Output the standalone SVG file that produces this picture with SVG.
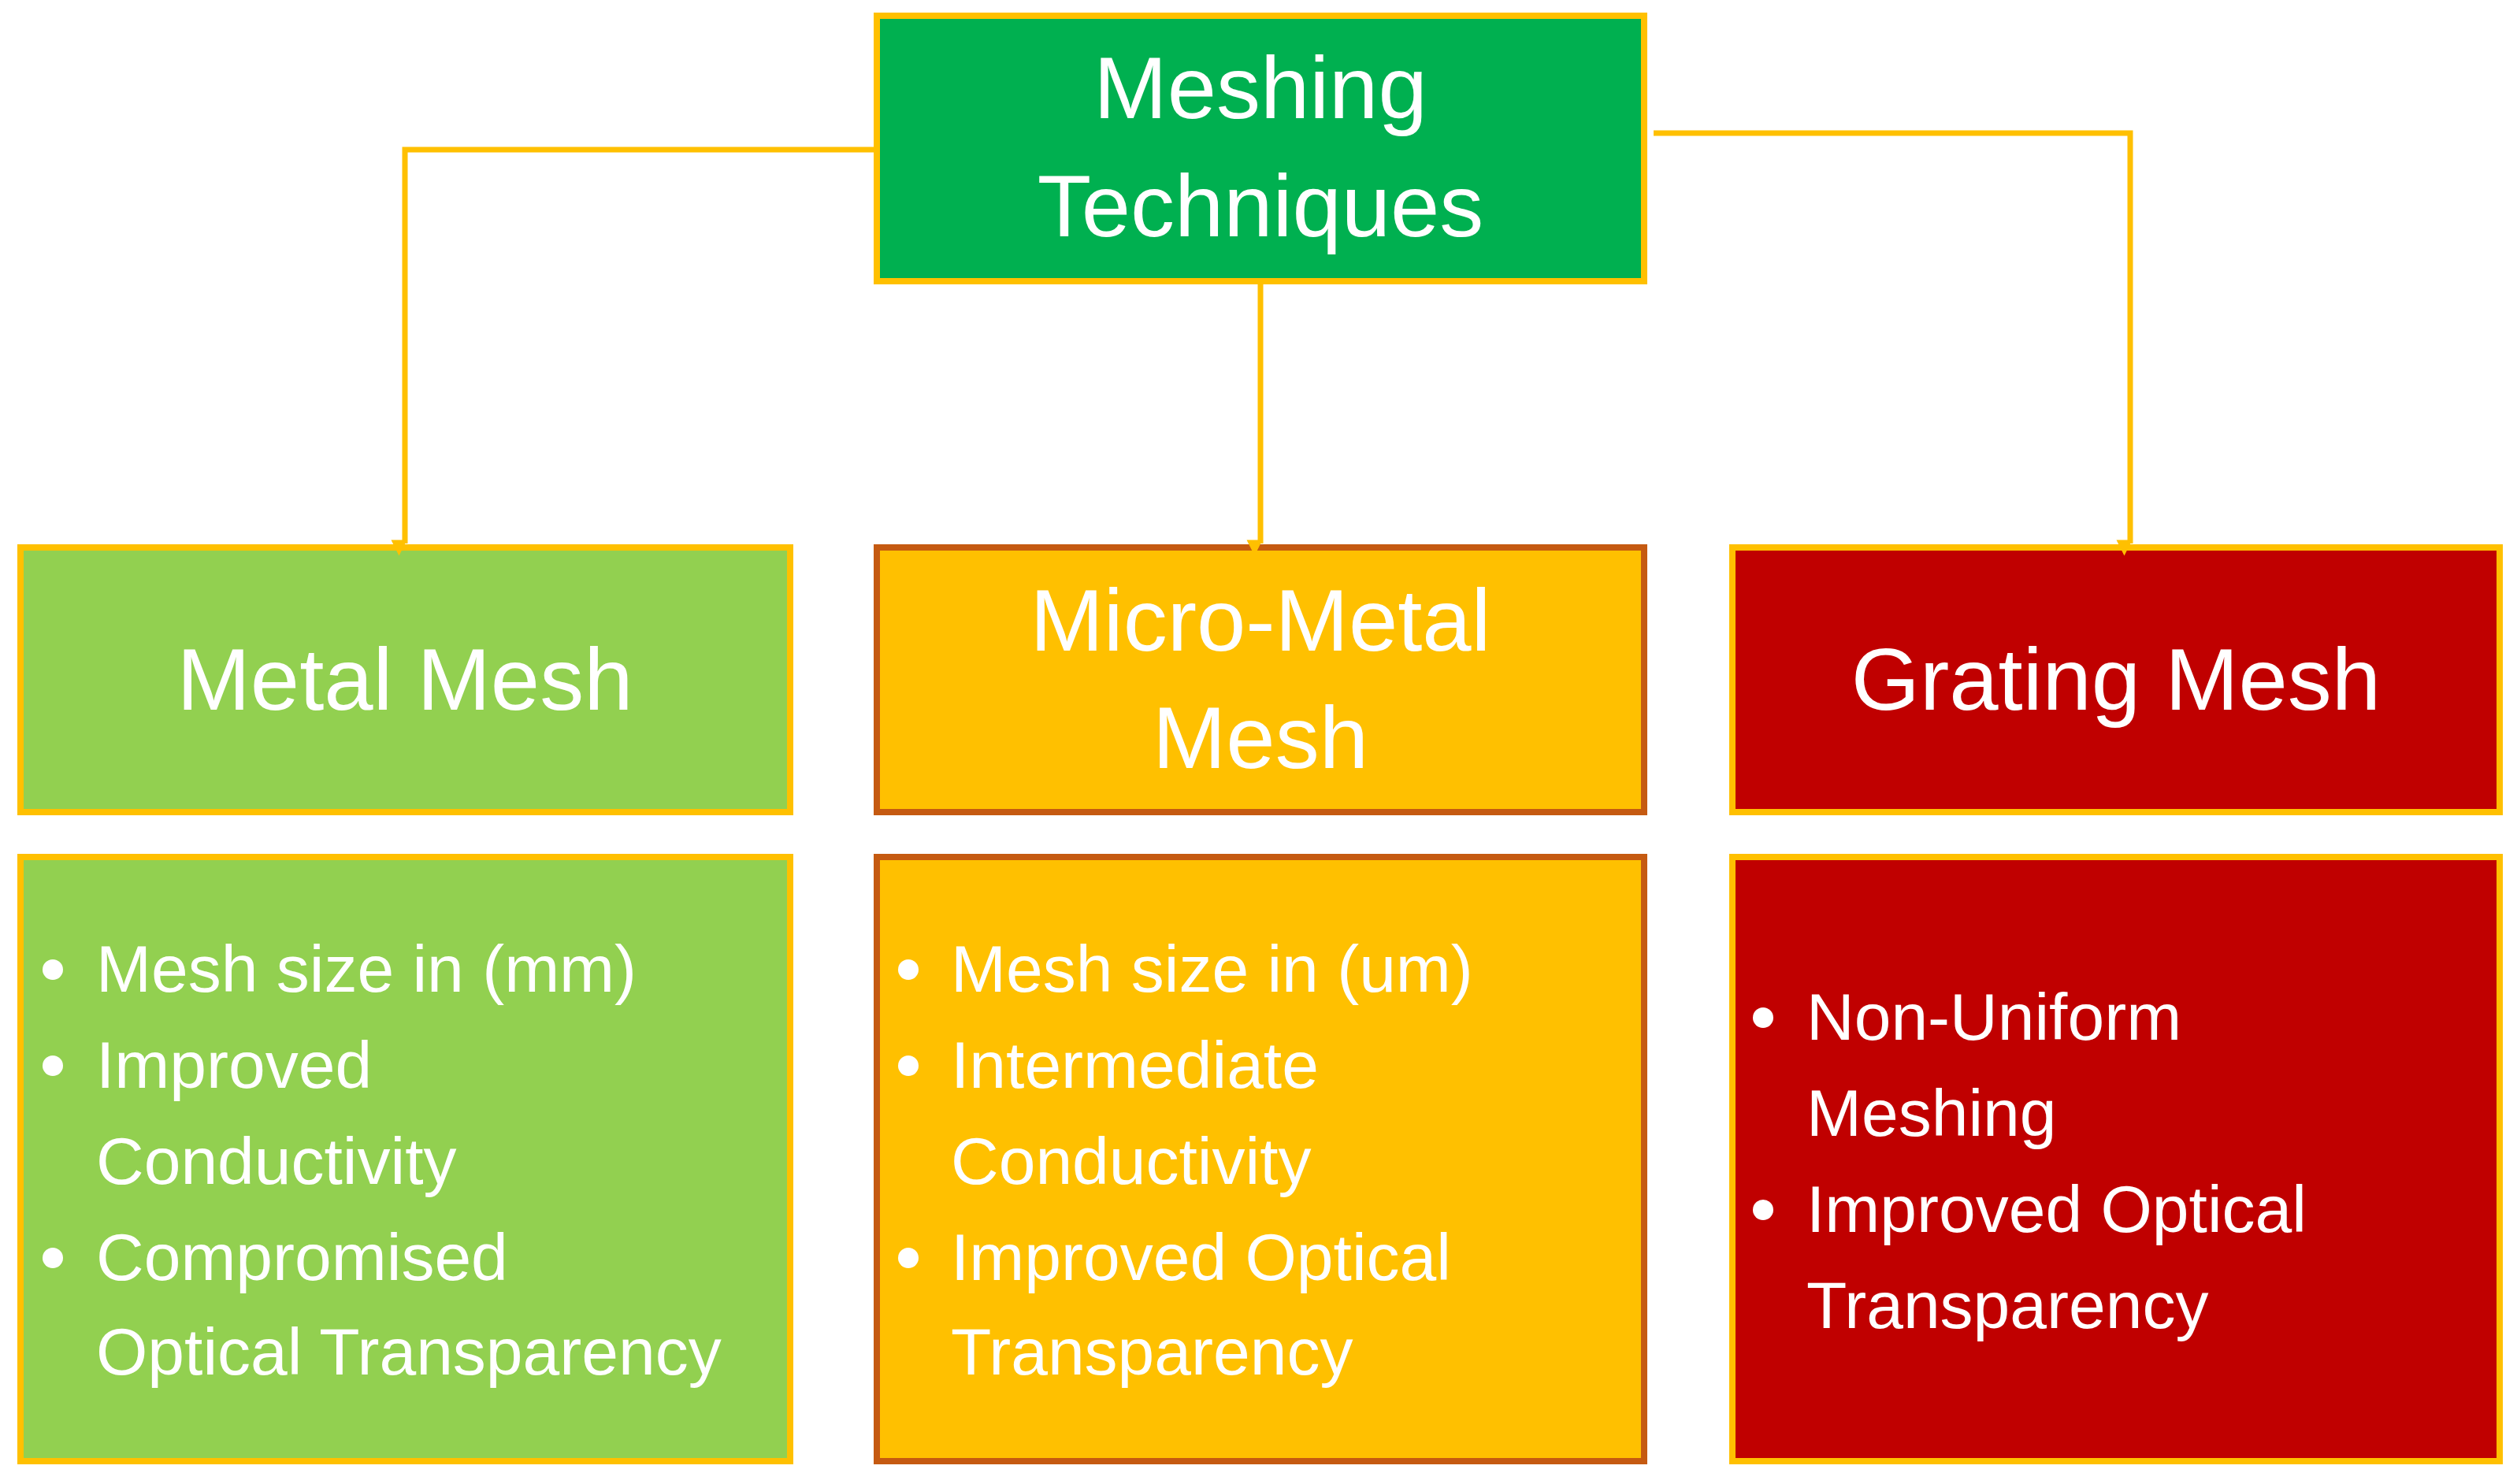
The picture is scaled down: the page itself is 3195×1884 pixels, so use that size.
<svg xmlns="http://www.w3.org/2000/svg" width="3195" height="1884" viewBox="0 0 3195 1884">
<style>
.b{stroke-width:8}
.t{font-family:"Liberation Sans",Arial,sans-serif;fill:#fff;text-anchor:middle;font-size:112px}
.l{font-family:"Liberation Sans",Arial,sans-serif;fill:#fff;font-size:84px}
.c{fill:none;stroke:#FFC000;stroke-width:7}
</style>
<defs><marker id="a" viewBox="0 0 10 10" refX="9" refY="5" markerWidth="5" markerHeight="5" orient="auto" markerUnits="userSpaceOnUse" style="overflow:visible"><path d="M0,0L10,5L0,10z" fill="#FFC000" transform="scale(4)"/></marker></defs>
<rect width="3195" height="1884" fill="#fff"/>
<g id="top"><rect class="b" x="1113" y="20" width="974" height="337" fill="#00B050" stroke="#FFC000"/>
<text class="t" x="1600" y="150">Meshing</text><text class="t" x="1600" y="300">Techniques</text></g>
<g id="metal"><rect class="b" x="26" y="695" width="977" height="336" fill="#92D050" stroke="#FFC000"/>
<text class="t" x="514" y="901">Metal Mesh</text></g>
<g id="micro"><rect class="b" x="1113" y="695" width="974" height="336" fill="#FFC000" stroke="#C55A11"/>
<text class="t" x="1600" y="826">Micro-Metal</text><text class="t" x="1600" y="975">Mesh</text></g>
<g id="grating"><rect class="b" x="2199" y="695" width="974" height="336" fill="#C00000" stroke="#FFC000"/>
<text class="t" x="2686" y="901">Grating Mesh</text></g>
<g id="metal-d"><rect class="b" x="26" y="1088" width="977" height="767" fill="#92D050" stroke="#FFC000"/>
<g fill="#fff"><circle cx="67" cy="1231" r="13"/><circle cx="67" cy="1353" r="13"/><circle cx="67" cy="1597" r="13"/></g>
<text class="l" x="122" y="1259">Mesh size in (mm)</text><text class="l" x="122" y="1381">Improved</text><text class="l" x="122" y="1503">Conductivity</text><text class="l" x="122" y="1625">Compromised</text><text class="l" x="122" y="1745">Optical Transparency</text></g>
<g id="micro-d"><rect class="b" x="1113" y="1088" width="974" height="767" fill="#FFC000" stroke="#C55A11"/>
<g fill="#fff"><circle cx="1153" cy="1231" r="13"/><circle cx="1153" cy="1353" r="13"/><circle cx="1153" cy="1597" r="13"/></g>
<text class="l" x="1207" y="1259">Mesh size in (um)</text><text class="l" x="1207" y="1381">Intermediate</text><text class="l" x="1207" y="1503">Conductivity</text><text class="l" x="1207" y="1625">Improved Optical</text><text class="l" x="1207" y="1745">Transparency</text></g>
<g id="grating-d"><rect class="b" x="2199" y="1088" width="974" height="767" fill="#C00000" stroke="#FFC000"/>
<g fill="#fff"><circle cx="2238" cy="1292" r="13"/><circle cx="2238" cy="1536" r="13"/></g>
<text class="l" x="2293" y="1320">Non-Uniform</text><text class="l" x="2293" y="1442">Meshing</text><text class="l" x="2293" y="1564">Improved Optical</text><text class="l" x="2293" y="1686">Transparency</text></g>
<g id="connectors">
<path class="c" d="M1113,190H514V690" marker-end="url(#a)"/>
<path class="c" d="M1600,357V690" marker-end="url(#a)"/>
<path class="c" d="M2099,169H2704V690" marker-end="url(#a)"/>
</g>
</svg>
